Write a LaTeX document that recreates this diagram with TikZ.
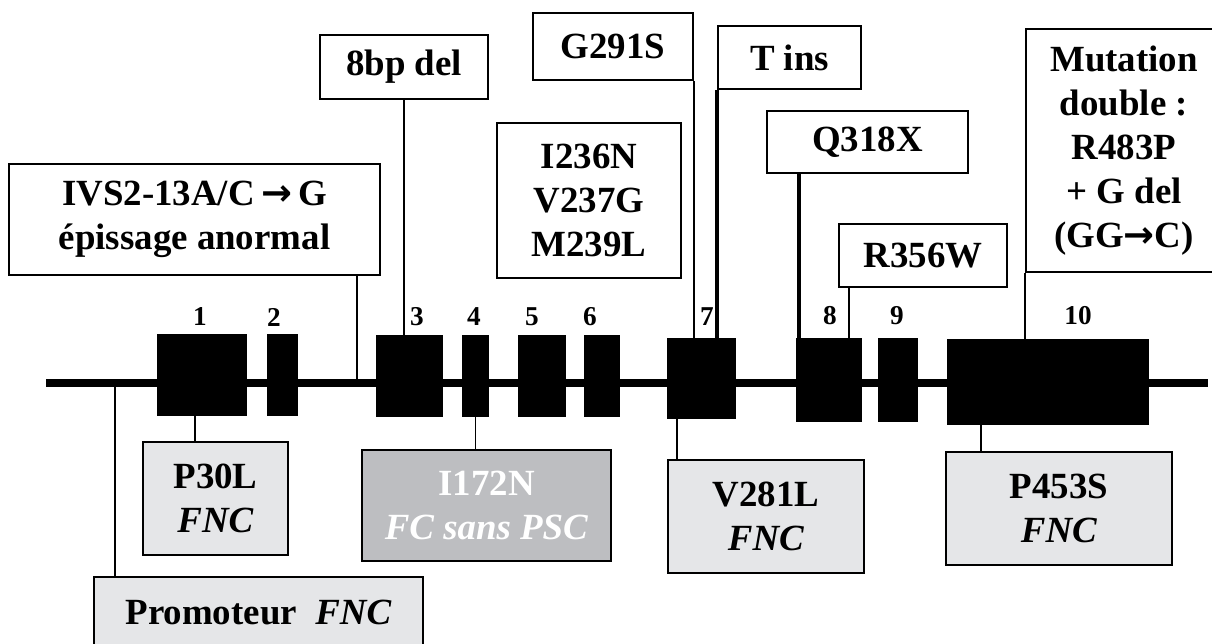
\documentclass[tikz,border=0pt]{standalone}
\usepackage{fontspec}
\setmainfont{Liberation Serif}
\newfontfamily\arrowfont{DejaVu Sans}
\usepackage{tikz}
\usepackage{xcolor}
\definecolor{lightbox}{HTML}{E5E6E8}
\definecolor{darkbox}{HTML}{BDBEC1}
\newcommand{\arr}{{\arrowfont\bfseries\char"2192}}
\tikzstyle{mutbox} = [rectangle, 
inner sep=0pt, 
text centered, 
align=center, 
line width=1.1pt, 
font=\fontsize{21}{25}\selectfont\bfseries, 
draw=black]
\tikzstyle{fncbox} = [mutbox, fill=lightbox]
\tikzstyle{pscbox} = [mutbox, fill=darkbox, text=white]
\tikzstyle{exon} = [rectangle, inner sep=0pt, outer sep=0pt, fill=black]
\tikzstyle{exnum} = [font=\fontsize{15.5}{18}\selectfont\bfseries]
\tikzstyle{link} = [line width=1.1pt]
\tikzstyle{thicklink} = [line width=2.2pt]

\begin{document}
\begin{tikzpicture}[x=0.02cm, y=-0.02cm]
        \useasboundingbox (0,0) rectangle (1212,643);

        % --- Gene ---
        \coordinate (gene) at (0,383);
        \coordinate (geneL) at (46,383);
        \coordinate (geneR) at (1208,383);
        \draw [line width=4pt] (geneL) -- (geneR);

        % --- Exons ---
        \node (ex1) [exon, minimum width=1.8cm, minimum height=1.64cm] at (202,375) {};
        \node (ex2) [exon, minimum width=0.62cm, minimum height=1.64cm] at (282.5,375) {};
        \node (ex3) [exon, minimum width=1.34cm, minimum height=1.64cm] at (409.5,376) {};
        \node (ex4) [exon, minimum width=0.54cm, minimum height=1.64cm] at (475.5,376) {};
        \node (ex5) [exon, minimum width=0.96cm, minimum height=1.64cm] at (542,376) {};
        \node (ex6) [exon, minimum width=0.72cm, minimum height=1.64cm] at (602,376) {};
        \node (ex7) [exon, minimum width=1.38cm, minimum height=1.62cm] at (701.5,378.5) {};
        \node (ex8) [exon, minimum width=1.32cm, minimum height=1.68cm] at (829,380) {};
        \node (ex9) [exon, minimum width=0.8cm, minimum height=1.68cm] at (898,380) {};
        \node (ex10) [exon, minimum width=4.04cm, minimum height=1.72cm] at (1048,382) {};

        % --- Exon numbers ---
        \node (n1) [exnum] at (200,317) {1};
        \node (n2) [exnum] at (274,317) {2};
        \node (n3) [exnum] at (417,317) {3};
        \node (n4) [exnum] at (474,317) {4};
        \node (n5) [exnum] at (532,317) {5};
        \node (n6) [exnum] at (590,317) {6};
        \node (n7) [exnum] at (707,317) {7};
        \node (n8) [exnum] at (830,316) {8};
        \node (n9) [exnum] at (897,316) {9};
        \node (n10) [exnum] at (1078,316) {10};

        % --- Mutations above the gene ---
        \node (ivs) [mutbox, minimum width=7.42cm, minimum height=2.22cm] at (194.5,219.5)
            {IVS2-13A/C\,\arr\,G\\ épissage anormal};
        \node (bp8) [mutbox, minimum width=3.36cm, minimum height=1.28cm] at (404,67) {8bp del};
        \node (i236) [mutbox, minimum width=3.68cm, minimum height=3.1cm] at (589,200.5)
            {I236N\\V237G\\M239L};
        \node (g291) [mutbox, minimum width=3.2cm, minimum height=1.34cm] at (613,46.5) {G291S};
        \node (tins) [mutbox, minimum width=2.86cm, minimum height=1.26cm] at (789.5,57.5) {T ins};
        \node (q318) [mutbox, minimum width=4.02cm, minimum height=1.24cm] at (867.5,142) {Q318X};
        \node (r356) [mutbox, minimum width=3.36cm, minimum height=1.26cm] at (923,255.5) {R356W};
        \node (mut) [mutbox, minimum width=3.94cm, minimum height=4.86cm] at (1124,150.5)
            {Mutation\\double :\\R483P\\+ G del\\(GG\arr C)};

        % --- Mutations below the gene ---
        \node (p30l) [fncbox, minimum width=2.9cm, minimum height=2.26cm] at (215.5,498.5)
            {P30L\\\textit{FNC}};
        \node (i172) [pscbox, minimum width=4.98cm, minimum height=2.22cm] at (486.5,505.5)
            {I172N\\\textit{FC sans PSC}};
        \node (v281) [fncbox, minimum width=3.92cm, minimum height=2.26cm] at (766,516.5)
            {V281L\\\textit{FNC}};
        \node (p453) [fncbox, minimum width=4.52cm, minimum height=2.26cm] at (1059,508.5)
            {P453S\\\textit{FNC}};
        \node (prom) [fncbox, minimum width=6.58cm, minimum height=1.42cm] at (258.5,612.5)
            {Promoteur\ \ \textit{FNC}};

        % --- Connexions ---
        \draw [link] (ivs.south -| 357,0) -- (gene -| 357,0);
        \draw [link] (bp8.south) -- (ex3.north -| bp8.south);
        \draw [link] (g291.south east) -- (ex7.north -| g291.south east);
        \draw [thicklink] (tins.south west) -- (ex7.north -| tins.south west);
        \draw [thicklink] (q318.south -| 799,0) -- (ex8.north -| 799,0);
        \draw [link] (r356.south -| 849,0) -- (ex8.north -| 849,0);
        \draw [link] (mut.south west) -- (ex10.north -| mut.south west);

        \draw [link] (gene -| 115,0) -- (prom.north -| 115,0);
        \draw [link] (ex1.south -| 195,0) -- (p30l.north -| 195,0);
        \draw [link] (ex4.south) -- (i172.north -| ex4.south);
        \draw [link] (ex7.south -| 677,0) -- (v281.north -| 677,0);
        \draw [link] (ex10.south -| 981,0) -- (p453.north -| 981,0);

    \end{tikzpicture}
\end{document}
